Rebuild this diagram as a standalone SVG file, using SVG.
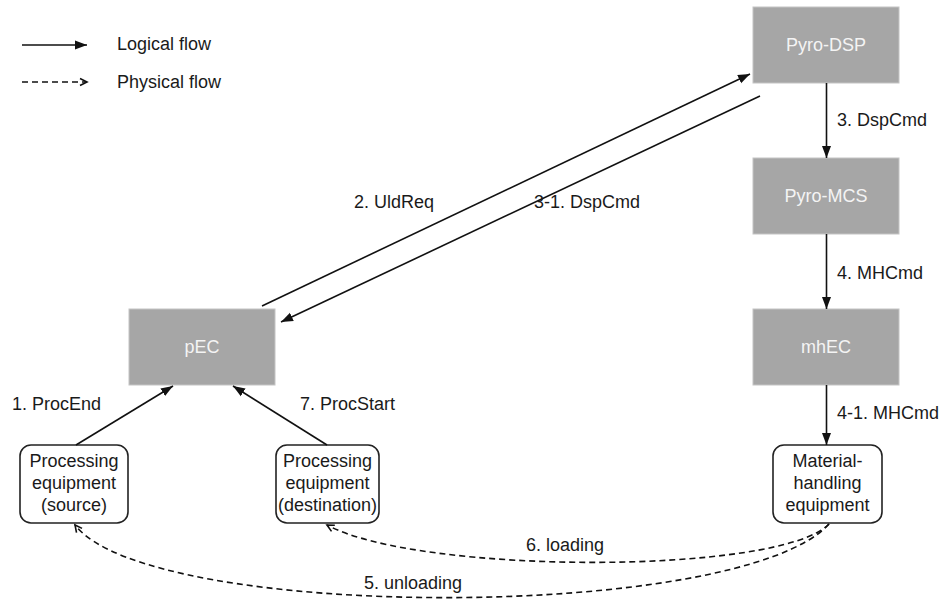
<svg xmlns="http://www.w3.org/2000/svg" width="943" height="603" viewBox="0 0 943 603">
<style>
text{font-family:"Liberation Sans",Arial,sans-serif;font-size:18px;fill:#1a1a1a}
.g rect{fill:#a6a6a6;stroke:#c4c4c4;stroke-width:1}
.g text{fill:#f4f4f4;text-anchor:middle}
.r rect{fill:#fff;stroke:#222;stroke-width:1.6}
.r text{text-anchor:middle}
.s{fill:none;stroke:#111;stroke-width:1.6;marker-end:url(#a)}
.d{fill:none;stroke:#111;stroke-width:1.6;stroke-dasharray:6 4;marker-end:url(#o)}
</style>
<defs>
<marker id="a" markerUnits="userSpaceOnUse" markerWidth="14" markerHeight="12" viewBox="0 0 14 12" refX="12" refY="6" orient="auto"><path d="M0,1.5 L12,6 L0,10.5 Z" fill="#111"/></marker>
<marker id="o" markerUnits="userSpaceOnUse" markerWidth="12" markerHeight="12" viewBox="0 0 12 12" refX="10" refY="6" orient="auto"><path d="M3,2.5 L10,6 L3,9.5" fill="none" stroke="#111" stroke-width="1.6"/></marker>
</defs>
<g id="legend">
<line class="s" x1="22" y1="45" x2="87" y2="45"/>
<text x="117" y="50">Logical flow</text>
<line class="d" x1="22" y1="82" x2="87" y2="82"/>
<text x="117" y="88">Physical flow</text>
</g>
<g id="pyro-dsp" class="g"><rect x="753" y="7" width="146" height="76"/><text x="826" y="51">Pyro-DSP</text></g>
<g id="pyro-mcs" class="g"><rect x="753" y="158" width="146" height="76"/><text x="826" y="202">Pyro-MCS</text></g>
<g id="mhec" class="g"><rect x="753" y="309" width="146" height="76"/><text x="826" y="353">mhEC</text></g>
<g id="pec" class="g"><rect x="129" y="309" width="146" height="76"/><text x="202" y="353">pEC</text></g>
<g id="proc-source" class="r"><rect x="20" y="445" width="108" height="78" rx="11"/><text x="74" y="467">Processing</text><text x="74" y="489">equipment</text><text x="74" y="511">(source)</text></g>
<g id="proc-dest" class="r"><rect x="276" y="445" width="103" height="78" rx="11"/><text x="327.5" y="467">Processing</text><text x="327.5" y="489">equipment</text><text x="327.5" y="511">(destination)</text></g>
<g id="mh-equip" class="r"><rect x="773" y="445" width="109" height="78" rx="11"/><text x="827.5" y="467">Material-</text><text x="827.5" y="489">handling</text><text x="827.5" y="511">equipment</text></g>
<g id="connectors">
<line class="s" x1="262" y1="306" x2="750" y2="74"/>
<line class="s" x1="760" y1="96" x2="281" y2="322"/>
<line class="s" x1="826.5" y1="83" x2="826.5" y2="158"/>
<line class="s" x1="826.5" y1="234" x2="826.5" y2="309"/>
<line class="s" x1="826.5" y1="385" x2="826.5" y2="445"/>
<line class="s" x1="76" y1="445" x2="173" y2="386"/>
<line class="s" x1="327" y1="445" x2="233" y2="386"/>
<path class="d" d="M829,524 C780,575 420,575 327,525"/>
<path class="d" d="M829,524 C740,622 150,622 75,525"/>
<text x="12" y="410">1. ProcEnd</text>
<text x="300" y="410">7. ProcStart</text>
<text x="354" y="208">2. UldReq</text>
<text x="534" y="208">3-1. DspCmd</text>
<text x="837" y="126">3. DspCmd</text>
<text x="837" y="279">4. MHCmd</text>
<text x="837" y="419">4-1. MHCmd</text>
<text x="526" y="551">6. loading</text>
<text x="364" y="589">5. unloading</text>
</g>
</svg>
